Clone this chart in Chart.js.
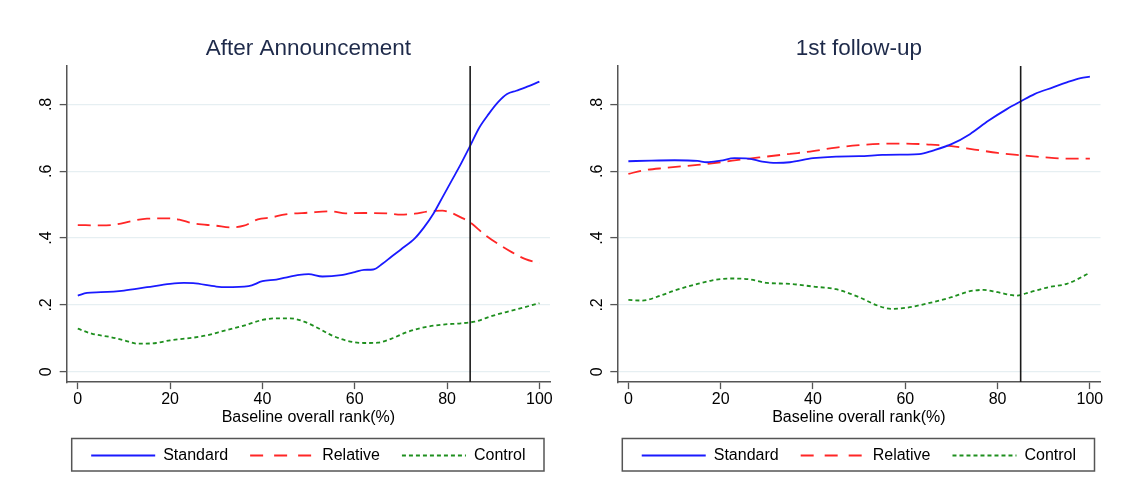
<!DOCTYPE html>
<html>
<head>
<meta charset="utf-8">
<script src="https://cdn.jsdelivr.net/npm/chart.js@4.4.1/dist/chart.umd.min.js"></script>
<style>
  html, body { margin: 0; padding: 0; background: #fff; }
  #wrap { display: flex; width: 1124px; height: 504px; }
  canvas { display: block; }
</style>
</head>
<body>
<div id="wrap">
  <canvas id="chartAnn" width="562" height="504"></canvas>
  <canvas id="chartFollow" width="562" height="504"></canvas>
</div>
<script>
// axes
var xTicks = [0, 20, 40, 60, 80, 100];
var yTicks = [0, 0.2, 0.4, 0.6, 0.8];
var yTickLabels = ["0", ".2", ".4", ".6", ".8"];
var cutoff = 85;
var seriesNames = ["Standard", "Relative", "Control"];

// After Announcement
var annStdX = [0, 2, 5, 10, 15, 20, 23, 25, 30, 32, 37, 40, 43, 45, 48, 50, 53, 57, 60, 62, 64, 66, 68, 70, 73, 75, 77, 79, 81, 83, 85, 87, 89, 91, 93, 95, 97, 100];
var annStdY = [0.228, 0.236, 0.238, 0.243, 0.253, 0.263, 0.266, 0.265, 0.255, 0.253, 0.256, 0.271, 0.276, 0.282, 0.290, 0.292, 0.285, 0.289, 0.298, 0.305, 0.306, 0.323, 0.345, 0.366, 0.399, 0.432, 0.472, 0.522, 0.572, 0.622, 0.676, 0.731, 0.771, 0.806, 0.831, 0.841, 0.851, 0.868];
var annRelX = [0, 5, 8, 12, 15, 20, 22, 25, 30, 33, 36, 39, 42, 45, 50, 55, 58, 62, 67, 70, 73, 76, 79, 81, 83, 85, 88, 91, 94, 97, 100];
var annRelY = [0.439, 0.438, 0.440, 0.452, 0.458, 0.459, 0.455, 0.444, 0.437, 0.432, 0.437, 0.456, 0.462, 0.471, 0.476, 0.480, 0.474, 0.475, 0.474, 0.470, 0.473, 0.480, 0.482, 0.475, 0.462, 0.447, 0.412, 0.383, 0.358, 0.337, 0.325];
var annCtlX = [0, 3, 7, 10, 13, 17, 20, 25, 28, 32, 36, 40, 43, 46, 49, 52, 55, 58, 62, 65, 68, 71, 75, 79, 83, 86, 90, 94, 100];
var annCtlY = [0.129, 0.114, 0.104, 0.094, 0.084, 0.086, 0.094, 0.102, 0.109, 0.124, 0.138, 0.155, 0.160, 0.160, 0.150, 0.131, 0.109, 0.094, 0.086, 0.087, 0.099, 0.117, 0.133, 0.141, 0.145, 0.150, 0.168, 0.183, 0.205];

// 1st follow-up
var folStdX = [0, 5, 10, 15, 17, 20, 23, 26, 29, 32, 35, 40, 45, 50, 55, 60, 63, 66, 70, 74, 78, 82, 85, 88, 92, 95, 98, 100];
var folStdY = [0.630, 0.632, 0.633, 0.631, 0.627, 0.632, 0.639, 0.638, 0.629, 0.625, 0.627, 0.639, 0.644, 0.645, 0.649, 0.650, 0.651, 0.662, 0.681, 0.711, 0.751, 0.786, 0.809, 0.831, 0.851, 0.866, 0.879, 0.883];
var folRelX = [0, 3, 8, 15, 20, 25, 30, 35, 40, 45, 50, 55, 60, 65, 70, 75, 80, 85, 90, 95, 100];
var folRelY = [0.592, 0.602, 0.610, 0.619, 0.627, 0.636, 0.644, 0.652, 0.660, 0.671, 0.678, 0.682, 0.683, 0.680, 0.675, 0.665, 0.655, 0.648, 0.642, 0.638, 0.638];
var folCtlX = [0, 3, 7, 10, 15, 18, 22, 26, 30, 35, 40, 45, 50, 54, 57, 60, 65, 70, 74, 77, 80, 84, 87, 91, 95, 100];
var folCtlY = [0.215, 0.213, 0.228, 0.243, 0.263, 0.273, 0.279, 0.277, 0.266, 0.263, 0.255, 0.247, 0.223, 0.198, 0.188, 0.191, 0.205, 0.223, 0.241, 0.245, 0.238, 0.228, 0.238, 0.253, 0.263, 0.296];

var lineColors = ["#1a1aff", "#ff2626", "#1e8f1e"];
var lineDashes = [[], [13, 7], [4, 3]];
var legendDashes = [[], [13, 11], [4, 3]];

Chart.defaults.font.family = "'Liberation Sans', Arial, sans-serif";
Chart.defaults.color = "#000";

function points(xs, ys) {
    return xs.map(function (x, i) { return { x: x, y: ys[i] }; });
}

var cutoffLine = {
    id: "cutoffLine",
    afterDatasetsDraw: function (chart) {
        var a = chart.chartArea, ctx = chart.ctx;
        var x = chart.scales.x.getPixelForValue(cutoff);
        ctx.save();
        ctx.strokeStyle = "#1a1a1a";
        ctx.lineWidth = 1.6;
        ctx.beginPath();
        ctx.moveTo(x, a.top);
        ctx.lineTo(x, a.bottom);
        ctx.stroke();
        ctx.restore();
    }
};

var legendFrame = {
    id: "legendFrame",
    afterDraw: function (chart) {
        var a = chart.chartArea, lg = chart.legend, ctx = chart.ctx;
        ctx.save();
        ctx.strokeStyle = "#555";
        ctx.lineWidth = 1.5;
        ctx.strokeRect(a.left + 5, lg.top + 13, a.right - a.left - 11, 32.5);
        ctx.restore();
    }
};

function makeChart(id, title, series, yAxisWidth, padRight) {
    var ctx = document.getElementById(id).getContext("2d");
    return new Chart(ctx, {
        type: "line",
        data: {
            datasets: series.map(function (s, i) {
                return {
                    label: seriesNames[i],
                    data: points(s[0], s[1]),
                    borderColor: lineColors[i],
                    backgroundColor: lineColors[i],
                    borderWidth: 1.8,
                    borderDash: lineDashes[i],
                    pointRadius: 0,
                    cubicInterpolationMode: "monotone",
                    fill: false
                };
            })
        },
        options: {
            responsive: false,
            animation: false,
            events: [],
            layout: { padding: { top: 0, left: 0, right: padRight, bottom: 30.5 } },
            scales: {
                x: {
                    type: "linear",
                    min: -2.4,
                    max: 102.3,
                    afterBuildTicks: function (scale) {
                        scale.ticks = xTicks.map(function (v) { return { value: v }; });
                    },
                    grid: { drawOnChartArea: false, drawTicks: true, tickLength: 7, tickColor: "#555", tickWidth: 1.3 },
                    border: { display: true, color: "#555", width: 1.5 },
                    ticks: { padding: 1, font: { size: 16 }, color: "#000", maxRotation: 0 },
                    title: { display: true, text: "Baseline overall rank(%)", font: { size: 16 }, color: "#000", padding: { top: -2, bottom: -2 } }
                },
                y: {
                    min: -0.031,
                    max: 0.915,
                    afterBuildTicks: function (scale) {
                        scale.ticks = yTicks.map(function (v) { return { value: v }; });
                    },
                    afterFit: function (scale) { scale.width = yAxisWidth; },
                    grid: { color: "#e6eff2", lineWidth: 1.2, drawTicks: true, tickLength: 7, tickColor: "#555", tickWidth: 1.3 },
                    border: { display: true, color: "#555", width: 1.5 },
                    ticks: {
                        autoSkip: false,
                        minRotation: 90,
                        maxRotation: 90,
                        crossAlign: "center",
                        padding: 6,
                        font: { size: 16 },
                        color: "#000",
                        callback: function (v, i) { return yTickLabels[i]; }
                    }
                }
            },
            plugins: {
                tooltip: { enabled: false },
                title: {
                    display: true,
                    text: title,
                    fullSize: false,
                    color: "#1e2a4a",
                    font: { size: 22.5, weight: "normal" },
                    padding: { top: 35, bottom: 4 }
                },
                legend: {
                    position: "bottom",
                    fullSize: false,
                    labels: {
                        usePointStyle: true,
                        pointStyleWidth: 64,
                        padding: 22,
                        color: "#000",
                        font: { size: 16 },
                        generateLabels: function (chart) {
                            return chart.data.datasets.map(function (ds, i) {
                                return {
                                    text: ds.label,
                                    strokeStyle: lineColors[i],
                                    fillStyle: lineColors[i],
                                    lineWidth: 1.8,
                                    lineDash: legendDashes[i],
                                    pointStyle: "line",
                                    fontColor: "#000",
                                    datasetIndex: i
                                };
                            });
                        }
                    }
                }
            }
        },
        plugins: [cutoffLine, legendFrame]
    });
}

makeChart("chartAnn", "After Announcement",
    [[annStdX, annStdY], [annRelX, annRelY], [annCtlX, annCtlY]], 66.7, 12);
makeChart("chartFollow", "1st follow-up",
    [[folStdX, folStdY], [folRelX, folRelY], [folCtlX, folCtlY]], 55.3, 23.5);
</script>
</body>
</html>
